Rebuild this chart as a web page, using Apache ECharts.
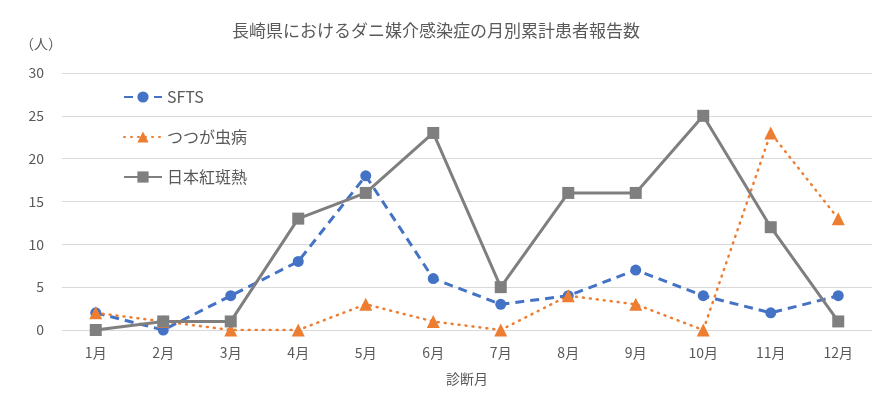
<!DOCTYPE html>
<html>
<head>
<meta charset="utf-8">
<script src="https://cdn.jsdelivr.net/npm/echarts@6/dist/echarts.min.js"></script>
<style>
  html, body { margin: 0; padding: 0; background: #fff; }
  #chart { width: 893px; height: 399px; }
</style>
</head>
<body>
<div id="chart"></div>
<script>
// 月（カテゴリ）
const months = ['1月', '2月', '3月', '4月', '5月', '6月', '7月', '8月', '9月', '10月', '11月', '12月']
// 各疾患の月別患者数
const sfts = [2, 0, 4, 8, 18, 6, 3, 4, 7, 4, 2, 4]
const tsutsugamushi = [2, 1, 0, 0, 3, 1, 0, 4, 3, 0, 23, 13]
const japaneseSpotted = [0, 1, 1, 13, 16, 23, 5, 16, 16, 25, 12, 1]

const font = '"Noto Sans CJK JP", "Noto Sans", sans-serif'
const grey = '#595959'

const chart = echarts.init(document.getElementById('chart'))
chart.setOption({
  animation: false,
  textStyle: { fontFamily: font },
  title: {
    text: '長崎県におけるダニ媒介感染症の月別累計患者報告数',
    left: 431,
    textAlign: 'center',
    top: 17,
    textStyle: { fontSize: 17, fontWeight: 'normal', color: grey, fontFamily: font }
  },
  legend: {
    orient: 'vertical',
    left: 118,
    top: 82,
    itemGap: 20,
    itemWidth: 38,
    itemHeight: 14,
    textStyle: { fontSize: 16, color: grey, fontFamily: font, lineHeight: 20 },
    data: ['SFTS', 'つつが虫病', '日本紅斑熱']
  },
  grid: { left: 62, right: 21, top: 73, bottom: 69 },
  xAxis: {
    type: 'category',
    data: months,
    name: '診断月',
    nameLocation: 'middle',
    nameGap: 42,
    nameTextStyle: { fontSize: 14, color: grey },
    axisLine: { show: false },
    axisTick: { show: false },
    axisLabel: { fontSize: 14, color: grey, margin: 16 }
  },
  yAxis: {
    type: 'value',
    min: 0,
    max: 30,
    interval: 5,
    name: '（人）',
    nameLocation: 'end',
    nameGap: 22,
    nameTextStyle: { fontSize: 14, color: grey, align: 'right' },
    axisLabel: { fontSize: 14, color: grey, margin: 18 },
    splitLine: { lineStyle: { color: '#d9d9d9', width: 1 } }
  },
  series: [
    {
      name: 'SFTS',
      type: 'line',
      data: sfts,
      symbol: 'circle',
      symbolSize: 11,
      itemStyle: { color: '#4472C4' },
      lineStyle: { color: '#4472C4', width: 3, type: [9, 6] }
    },
    {
      name: 'つつが虫病',
      type: 'line',
      data: tsutsugamushi,
      symbol: 'triangle',
      symbolSize: 13,
      itemStyle: { color: '#ED7D31' },
      lineStyle: { color: '#ED7D31', width: 2.5, type: [1, 6], cap: 'round' }
    },
    {
      name: '日本紅斑熱',
      type: 'line',
      data: japaneseSpotted,
      symbol: 'rect',
      symbolSize: 12,
      itemStyle: { color: '#7F7F7F' },
      lineStyle: { color: '#7F7F7F', width: 3 }
    }
  ]
})
</script>
</body>
</html>
